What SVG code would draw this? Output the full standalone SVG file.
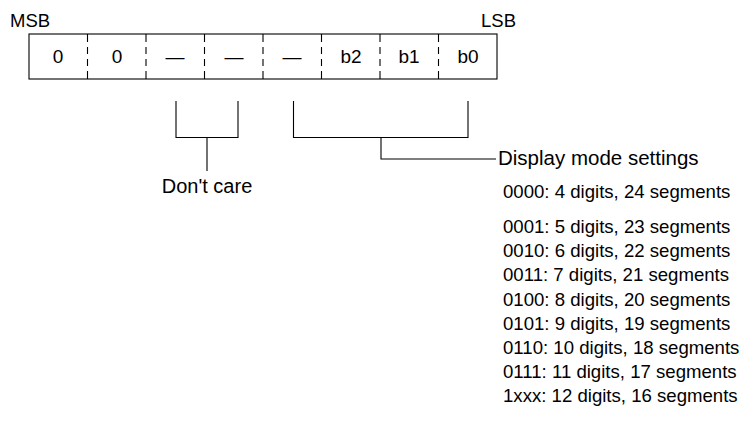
<svg xmlns="http://www.w3.org/2000/svg" width="754" height="440" viewBox="0 0 754 440">
<style>
text{font-family:"Liberation Sans",Arial,sans-serif;fill:#000}
.c{text-anchor:middle}
.ln{stroke:#000;stroke-width:1.1;fill:none}
.dv{stroke:#000;stroke-width:1.1;stroke-dasharray:8,5,7,5,7,5,8,100}
.bx{font-size:19px}
.hd{font-size:18.5px}
.lb{font-size:20px}
.dm{font-size:20.5px}
.ls{font-size:18.6px}
</style>
<rect width="754" height="440" fill="#fff"/>
<g id="register">
<text x="10" y="27" class="hd">MSB</text>
<text x="516" y="27" class="hd" text-anchor="end">LSB</text>
<rect x="29" y="34" width="468" height="45" class="ln"/>
<line x1="87.5" y1="34" x2="87.5" y2="79" class="dv"/>
<line x1="146" y1="34" x2="146" y2="79" class="dv"/>
<line x1="204.5" y1="34" x2="204.5" y2="79" class="dv"/>
<line x1="263" y1="34" x2="263" y2="79" class="dv"/>
<line x1="321.5" y1="34" x2="321.5" y2="79" class="dv"/>
<line x1="380" y1="34" x2="380" y2="79" class="dv"/>
<line x1="438.5" y1="34" x2="438.5" y2="79" class="dv"/>
<text x="58" y="63" class="c bx">0</text>
<text x="117" y="63" class="c bx">0</text>
<text x="175" y="63" class="c bx">—</text>
<text x="234" y="63" class="c bx">—</text>
<text x="292" y="63" class="c bx">—</text>
<text x="351" y="63" class="c bx">b2</text>
<text x="409" y="63" class="c bx">b1</text>
<text x="468" y="63" class="c bx">b0</text>
</g>
<g id="connectors">
<path d="M176 101V137.5H238V101M207 137.5V171" class="ln"/>
<path d="M293.5 101V137.5H468V101M381 137.5V159H496" class="ln"/>
</g>
<g id="dontcare"><text x="207" y="193" class="c lb">Don't care</text></g>
<g id="settings">
<text x="498" y="165" class="dm">Display mode settings</text>
<text x="503" y="198" class="ls">0000: 4 digits, 24 segments</text>
<text x="503" y="233" class="ls">0001: 5 digits, 23 segments</text>
<text x="503" y="257.2" class="ls">0010: 6 digits, 22 segments</text>
<text x="503" y="281.4" class="ls">0011: 7 digits, 21 segments</text>
<text x="503" y="305.6" class="ls">0100: 8 digits, 20 segments</text>
<text x="503" y="329.8" class="ls">0101: 9 digits, 19 segments</text>
<text x="503" y="354" class="ls">0110: 10 digits, 18 segments</text>
<text x="503" y="378.2" class="ls">0111: 11 digits, 17 segments</text>
<text x="503" y="402.4" class="ls">1xxx: 12 digits, 16 segments</text>
</g>
</svg>
